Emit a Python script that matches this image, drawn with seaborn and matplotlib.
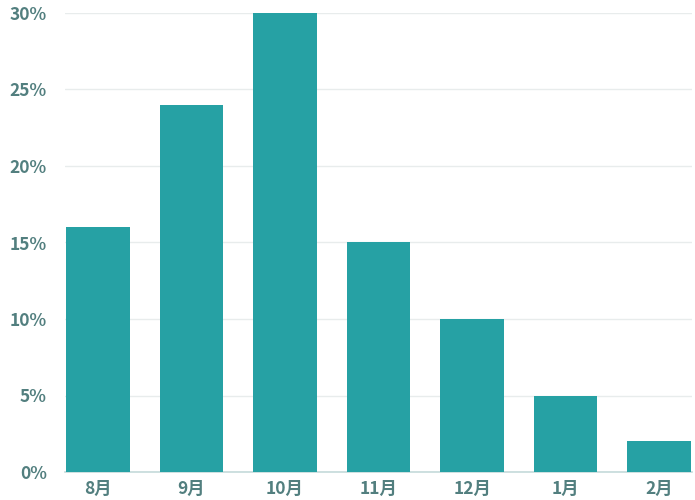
import matplotlib
matplotlib.use("Agg")
import matplotlib.pyplot as plt
import seaborn as sns
import pandas as pd
from matplotlib.ticker import FuncFormatter

months = ["8月", "9月", "10月", "11月", "12月", "1月", "2月"]
shares = [16, 24, 30, 15, 10, 5, 2]

sns.set_theme(style="white")
plt.rcParams['font.family'] = ['Noto Sans CJK SC', 'DejaVu Sans']

df = pd.DataFrame({"month": months, "share": shares})

fig = plt.figure(figsize=(6.95, 5), dpi=100)
ax = fig.add_axes([0.0935, 0.056, 0.9022, 0.918])

sns.barplot(data=df, x="month", y="share", color="#26a1a4", saturation=1,
            width=0.68, linewidth=0, ax=ax, zorder=3)

ax.set_ylim(0, 30)
ax.set_xlim(-0.35, 6.35)
ax.set_yticks(range(0, 31, 5))
ax.yaxis.set_major_formatter(FuncFormatter(lambda v, p: f"{int(v)}%"))
ax.yaxis.grid(True, color="#e8ecec", linewidth=1, zorder=0)
ax.set_xlabel("")
ax.set_ylabel("")

for s in ["top", "right", "left"]:
    ax.spines[s].set_visible(False)
ax.spines["bottom"].set_color("#c5dada")
ax.spines["bottom"].set_linewidth(1.2)

label_color = "#527f7f"
ax.tick_params(axis="both", length=0, labelsize=12.5, colors=label_color)
ax.tick_params(axis="y", pad=13)
ax.tick_params(axis="x", pad=6)
for t in ax.get_xticklabels() + ax.get_yticklabels():
    t.set_fontweight("bold")

fig.savefig("out.png", dpi=100)
